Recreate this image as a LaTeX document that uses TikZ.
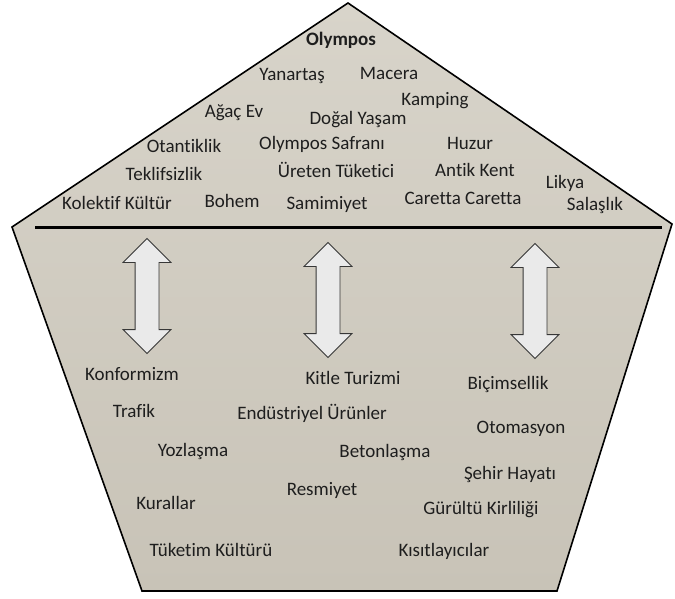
\documentclass[tikz,border=0pt]{standalone}
\usepackage{fontspec}
\setmainfont{Carlito}[Ligatures=NoCommon]
\usetikzlibrary{shapes.arrows,calc}
\definecolor{penttop} {RGB}{216,212,202}
\definecolor{pentbot} {RGB}{200,195,183}
\definecolor{arrfill} {RGB}{234,234,234}
\definecolor{arrline} {RGB}{55, 55, 55}
\definecolor{txtdark} {RGB}{30, 30, 30}
\tikzset{
  wrd/.style={font=\fontsize{19}{21}\selectfont,text=txtdark,inner sep=0pt,
    text height=1.5ex,text depth=.25ex},
  wrdb/.style={wrd,font=\fontsize{19}{21}\selectfont\bfseries},
  dblarr/.style={double arrow,draw=arrline,fill=arrfill,line width=0.8pt,
    rotate=90,minimum height=115pt,text height=0pt,text depth=0pt,
    inner xsep=0pt,inner ysep=11.5pt,
    double arrow head extend=12pt,double arrow head indent=0pt},
  sepline/.style={line width=3pt,color=black},
}

\begin{document}
\begin{tikzpicture}[x=1pt,y=-1pt]
  \useasboundingbox (0,0) rectangle (675,598);
  \coordinate (apex) at (348,3);
  \coordinate (lft)  at (12,227);
  \coordinate (rgt)  at (672,224);
  \coordinate (bl)   at (142,591);
  \coordinate (br)   at (557,591);

  % pentagon with shadow
  \fill[black!75,xshift=2pt,yshift=-2pt]
    (apex)--(rgt)--(br)--(bl)--(lft)--cycle;
  \shade[top color=penttop,bottom color=pentbot,draw=black,line width=1.6pt,
    line join=miter]
    (apex)--(rgt)--(br)--(bl)--(lft)--cycle;

  % separator
  \coordinate (sepl) at (35,227);
  \coordinate (sepr) at (662,227);
  \draw[sepline,black!35,yshift=-2pt](sepl)--(sepr);
  \draw[sepline](sepl)--(sepr);

  % top words
  \node[wrdb](olym) at (341,43){Olympos};
  \node[wrd](yan)   at (292,78){Yanartaş};
  \node[wrd](mac)   at (389,77){Macera};
  \node[wrd](kamp)  at (435,103){Kamping};
  \node[wrd](agac)  at (234,115){Ağaç Ev};
  \node[wrd](dogal) at (358,122){Doğal Yaşam};
  \node[wrd](otan)  at (184,150){Otantiklik};
  \node[wrd](safr)  at (322,147){Olympos Safranı};
  \node[wrd](huzur) at (470,147){Huzur};
  \node[wrd](tekl)  at (164,178){Teklifsizlik};
  \node[wrd](uret)  at (336,175){Üreten Tüketici};
  \node[wrd](antk)  at (475,174){Antik Kent};
  \node[wrd](likya) at (565,186){Likya};
  \node[wrd](kolk)  at (117,207){Kolektif Kültür};
  \node[wrd](bohem) at (232,205){Bohem};
  \node[wrd](samm)  at (327,207){Samimiyet};
  \node[wrd](carc)  at (463,202){Caretta Caretta};
  \node[wrd](salas) at (595,208){Salaşlık};

  % arrows
  \node[dblarr](arl) at (147,296){};
  \node[dblarr](arm) at (328,300){};
  \node[dblarr](arr) at (535,301){};

  % bottom words
  \node[wrd](konf)  at (132,378){Konformizm};
  \node[wrd](kitle) at (353,382){Kitle Turizmi};
  \node[wrd](bicim) at (508,387){Biçimsellik};
  \node[wrd](traf)  at (134,415){Trafik};
  \node[wrd](endu)  at (312,417){Endüstriyel Ürünler};
  \node[wrd](otom)  at (521,431){Otomasyon};
  \node[wrd](yozl)  at (193,454){Yozlaşma};
  \node[wrd](beton) at (385,455){Betonlaşma};
  \node[wrd](sehir) at (510,477){Şehir Hayatı};
  \node[wrd](resm)  at (322,493){Resmiyet};
  \node[wrd](kural) at (166,507){Kurallar};
  \node[wrd](gurul) at (481,512){Gürültü Kirliliği};
  \node[wrd](tuket) at (211,554){Tüketim Kültürü};
  \node[wrd](kisit) at (444,554){Kısıtlayıcılar};
\end{tikzpicture}
\end{document}
